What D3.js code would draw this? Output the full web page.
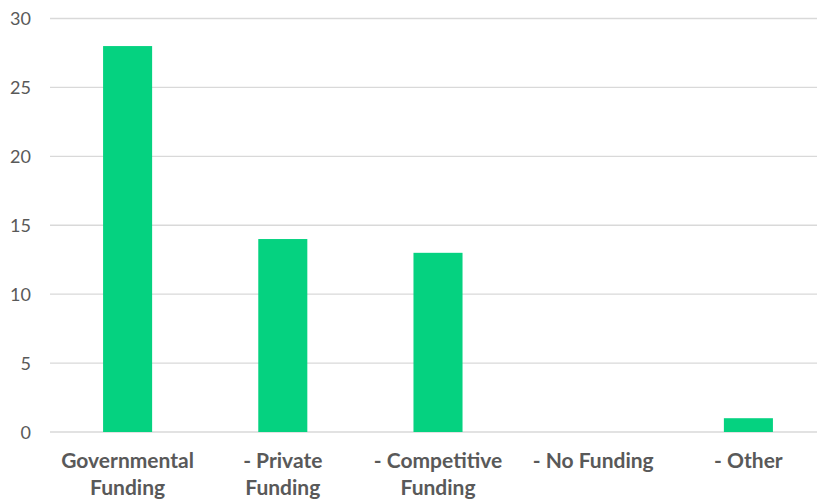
<!DOCTYPE html>
<html>
<head>
<meta charset="utf-8">
<script src="https://cdn.jsdelivr.net/npm/d3@7"></script>
<style>
  html, body { margin: 0; padding: 0; background: #fff; }
  svg { display: block; }
</style>
</head>
<body>
<svg id="chart" width="817" height="502"></svg>
<script>
// Funding sources and counts
const categories = [
  ["Governmental", "Funding"],
  ["- Private", "Funding"],
  ["- Competitive", "Funding"],
  ["- No Funding"],
  ["- Other"]
];
const values = [28, 14, 13, 0, 1];
const yTicks = [0, 5, 10, 15, 20, 25, 30];

const svg = d3.select("#chart");
const fontFamily = "Lato, 'Open Sans', sans-serif";
const textColor = "#595959";

const keys = categories.map(c => c.join(" "));

const x = d3.scaleBand()
  .domain(keys)
  .range([50, 826])
  .paddingInner(0.684)
  .paddingOuter(0.342);

const y = d3.scaleLinear()
  .domain([0, 30])
  .range([432, 18.5]);

// Horizontal gridlines
svg.append("g")
  .selectAll("line")
  .data(yTicks)
  .join("line")
  .attr("x1", 50)
  .attr("x2", 817)
  .attr("y1", d => y(d))
  .attr("y2", d => y(d))
  .attr("stroke", "#d9d9d9")
  .attr("stroke-width", 1.3);

// Y axis labels
const yAxis = d3.axisLeft(y).tickValues(yTicks).tickSize(0).tickPadding(0);
const gy = svg.append("g").attr("transform", "translate(31,0)").call(yAxis);
gy.select(".domain").remove();
gy.selectAll("text")
  .attr("fill", textColor)
  .attr("font-family", fontFamily)
  .attr("font-size", 18)
  .attr("dy", "0.35em");

// Bars
svg.append("g")
  .selectAll("rect")
  .data(values)
  .join("rect")
  .attr("x", (d, i) => x(keys[i]))
  .attr("width", x.bandwidth())
  .attr("y", d => y(d))
  .attr("height", d => y(0) - y(d))
  .attr("fill", "#05d280");

// Category labels
const labels = svg.append("g")
  .selectAll("text")
  .data(categories)
  .join("text")
  .attr("x", (d, i) => x(keys[i]) + x.bandwidth() / 2)
  .attr("y", 468)
  .attr("text-anchor", "middle")
  .attr("fill", textColor)
  .attr("font-family", fontFamily)
  .attr("font-weight", "bold")
  .attr("font-size", 21);

labels.selectAll("tspan")
  .data(d => d)
  .join("tspan")
  .attr("x", function () { return d3.select(this.parentNode).attr("x"); })
  .attr("dy", (d, i) => i === 0 ? 0 : 27)
  .text(d => d);
</script>
</body>
</html>
